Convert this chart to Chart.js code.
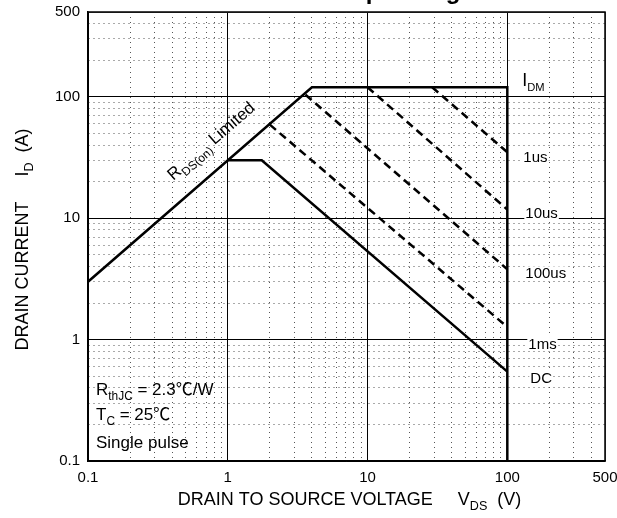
<!DOCTYPE html>
<html>
<head>
<meta charset="utf-8">
<script src="https://cdn.jsdelivr.net/npm/chart.js@4.4.1/dist/chart.umd.min.js"></script>
<style>
  html, body { margin: 0; padding: 0; background: #fff; }
  #wrap { width: 617px; height: 518px; }
</style>
</head>
<body>
<div id="wrap"><canvas id="soaChart"></canvas></div>
<script>
// Maximum Safe Operating Area - log/log
const xTickLabels = [0.1, 1, 10, 100, 500];
const yTickLabels = [0.1, 1, 10, 100, 500];

// outer limit: Rds(on) line, Idm, Vds max
const limitV = [0.1, 4.0, 100, 100];
const limitI = [3, 120, 120, 0.1];
// DC
const dcV = [1, 1.75, 100];
const dcI = [30, 30, 0.545];
// single pulse lines
const us1V = [29, 100];
const us1I = [120, 35];
const us10V = [10, 100];
const us10I = [120, 11.8];
const us100V = [3.6, 100];
const us100I = [104, 3.8];
const ms1V = [2.0, 100];
const ms1I = [59, 1.27];

const FONT = '"Liberation Sans", Arial, sans-serif';
const CJK = '"Noto Sans CJK SC", "Liberation Sans", sans-serif';

function pts(vs, is) {
    return vs.map((v, i) => ({ x: v, y: is[i] }));
}

// 1..9 x 10^n grid values
function gridValues(min, max) {
    const out = [];
    for (let e = -1; e <= 2; e++) {
        for (let k = 1; k <= 9; k++) {
            const v = Number((k * Math.pow(10, e)).toPrecision(3));
            if (v >= min && v <= max) out.push(v);
        }
    }
    return out;
}

function isMajor(v) {
    const l = Math.log10(v);
    return Math.abs(l - Math.round(l)) < 1e-6;
}

function lineSet(label, data, dashed) {
    return {
        label: label,
        data: data,
        showLine: true,
        borderColor: '#000',
        borderWidth: 2.5,
        borderDash: dashed ? [8, 5] : [],
        pointRadius: 0,
        tension: 0,
        fill: false
    };
}

// text runs with subscripts (sub) and font override (f)
function runFont(r, size, subScale) {
    return (r.sub ? size * subScale : size) + 'px ' + (r.f || FONT);
}
function runWidth(ctx, runs, size, subScale) {
    subScale = subScale || 0.7;
    let w = 0;
    runs.forEach(r => {
        ctx.font = runFont(r, size, subScale);
        w += ctx.measureText(r.t).width;
    });
    return w;
}
function drawRuns(ctx, x, y, runs, size, subScale) {
    subScale = subScale || 0.7;
    runs.forEach(r => {
        ctx.font = runFont(r, size, subScale);
        ctx.fillText(r.t, x, r.sub ? y + size * 0.28 : y);
        x += ctx.measureText(r.t).width;
    });
    return x;
}

const soaText = {
    id: 'soaText',
    afterDraw(chart) {
        const { ctx, chartArea: a } = chart;
        const xs = chart.scales.x, ys = chart.scales.y;
        ctx.save();
        ctx.fillStyle = '#000';
        ctx.textAlign = 'left';
        ctx.textBaseline = 'alphabetic';

        // frame
        ctx.strokeStyle = '#000';
        ctx.lineWidth = 1.5;
        ctx.strokeRect(a.left, a.top, a.right - a.left, a.bottom - a.top);

        // title, cut by the top edge
        ctx.font = 'bold 24px ' + FONT;
        ctx.textAlign = 'center';
        ctx.fillText('Maximum Safe Operating Area', (a.left + a.right) / 2, -1);
        ctx.textAlign = 'left';

        // curve labels right of Vds max
        const x100 = xs.getPixelForValue(100);
        const labels = [
            { runs: [{ t: 'I' }, { t: 'DM', sub: true }], dx: 15, v: 138, size: 18, sub: 0.62 },
            { runs: [{ t: '1us' }], dx: 16, v: 31.9, size: 15 },
            { runs: [{ t: '10us' }], dx: 18, v: 11.1, size: 15 },
            { runs: [{ t: '100us' }], dx: 18, v: 3.55, size: 15 },
            { runs: [{ t: '1ms' }], dx: 21, v: 0.93, size: 15 },
            { runs: [{ t: 'DC' }], dx: 23, v: 0.49, size: 15 }
        ];
        labels.forEach(l => {
            const w = runWidth(ctx, l.runs, l.size, l.sub);
            const cy = ys.getPixelForValue(l.v);
            const h = l.size * 0.72;
            ctx.fillStyle = '#fff';
            ctx.fillRect(x100 + l.dx - 1, cy - h / 2 - 1, w + 2, h + 2);
            ctx.fillStyle = '#000';
            drawRuns(ctx, x100 + l.dx, cy + h / 2, l.runs, l.size, l.sub);
        });

        // Rds(on) limited, along the limit line
        const slopeAng = Math.atan2(ys.getPixelForValue(100) - ys.getPixelForValue(10),
            xs.getPixelForValue(10) - xs.getPixelForValue(1));
        const ratio = limitI[0] / limitV[0];
        const ax = xs.getPixelForValue(1.0), ay = ys.getPixelForValue(1.0 * ratio);
        const rRuns = [{ t: 'R' }, { t: 'DS(on)', sub: true }, { t: ' Limited' }];
        ctx.save();
        ctx.translate(ax, ay);
        ctx.rotate(slopeAng);
        const rw = runWidth(ctx, rRuns, 17);
        drawRuns(ctx, -rw / 2, -20, rRuns, 17);
        ctx.restore();

        // conditions
        const lx = a.left + 8;
        drawRuns(ctx, lx, 395, [{ t: 'R' }, { t: 'thJC', sub: true }, { t: ' = 2.3' }, { t: '\u2103', f: CJK }, { t: '/W' }], 17);
        drawRuns(ctx, lx, 420, [{ t: 'T' }, { t: 'C', sub: true }, { t: ' = 25' }, { t: '\u2103', f: CJK }], 17);
        drawRuns(ctx, lx, 448, [{ t: 'Single pulse' }], 17);

        // axis titles
        const xt = [{ t: 'DRAIN TO SOURCE VOLTAGE     V' }, { t: 'DS', sub: true }, { t: '  (V)' }];
        const xw = runWidth(ctx, xt, 18);
        drawRuns(ctx, (a.left + a.right) / 2 - xw / 2 + 3, 505, xt, 18);

        const yt = [{ t: 'DRAIN CURRENT     I' }, { t: 'D', sub: true }, { t: '  (A)' }];
        const yw = runWidth(ctx, yt, 18);
        ctx.save();
        ctx.translate(28, (a.top + a.bottom) / 2 + 3);
        ctx.rotate(-Math.PI / 2);
        drawRuns(ctx, -yw / 2, 0, yt, 18);
        ctx.restore();

        ctx.restore();
    }
};

const gridX = gridValues(0.1, 500);
const gridY = gridValues(0.1, 500);

function axisOpts(values, labelList, isX) {
    return {
        type: 'logarithmic',
        min: 0.1,
        max: 500,
        afterBuildTicks: s => { s.ticks = values.map(v => ({ value: v })); },
        afterFit: s => {
            if (isX) s.height = 57; else s.width = 88;
            s.paddingLeft = 0; s.paddingRight = 0;
            s.paddingTop = 0; s.paddingBottom = 0;
        },
        ticks: {
            autoSkip: false,
            maxRotation: 0,
            color: '#000',
            padding: isX ? 8 : 8,
            font: { family: FONT, size: 15 },
            callback: v => labelList.includes(v) ? String(v) : ''
        },
        grid: {
            drawTicks: false,
            color: c => (c.tick && isMajor(c.tick.value)) ? '#000' : '#555',
            lineWidth: 1
        },
        border: {
            display: true,
            color: '#000',
            width: 1.5,
            dash: c => (c.tick && !isMajor(c.tick.value) && c.tick.value !== 500) ? [1, 4] : []
        }
    };
}

new Chart(document.getElementById('soaChart'), {
    type: 'scatter',
    data: {
        datasets: [
            lineSet('Limit', pts(limitV, limitI), false),
            lineSet('DC', pts(dcV, dcI), false),
            lineSet('1us', pts(us1V, us1I), true),
            lineSet('10us', pts(us10V, us10I), true),
            lineSet('100us', pts(us100V, us100I), true),
            lineSet('1ms', pts(ms1V, ms1I), true)
        ]
    },
    options: {
        responsive: true,
        maintainAspectRatio: false,
        animation: false,
        layout: { padding: { top: 12, right: 12, left: 0, bottom: 0 } },
        plugins: {
            legend: { display: false },
            tooltip: { enabled: false }
        },
        scales: {
            x: axisOpts(gridX, xTickLabels, true),
            y: axisOpts(gridY, yTickLabels, false)
        }
    },
    plugins: [soaText]
});
</script>
</body>
</html>
